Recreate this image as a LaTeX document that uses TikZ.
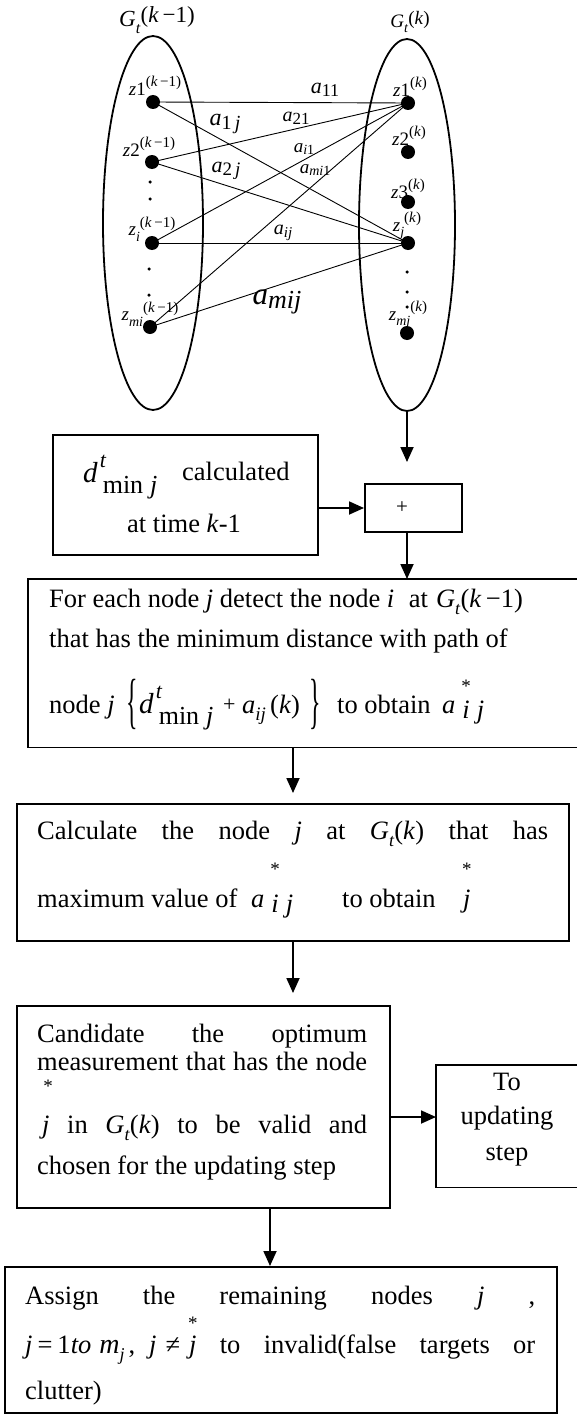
\documentclass[tikz,border=0pt]{standalone}
\usepackage{fontspec}
\setmainfont{Liberation Serif}
\usepackage{graphicx}
\usetikzlibrary{arrows.meta,shapes.geometric}
\newcommand{\fs}[1]{\fontsize{#1}{#1}\selectfont}
\newcommand{\Lsub}[2][15]{\raisebox{-0.3em}{\fs{#1}#2}}
\newsavebox{\stbox}
\newcommand{\starover}[2][1.0em]{\sbox{\stbox}{#2}\rlap{\hbox to\wd\stbox{\hss\raisebox{#1}{\fs{19}*}\hss}}\usebox{\stbox}}
\newcommand{\Gt}{\textit{G}\Lsub[18]{\textit{t}}}
\newcommand{\dmin}{{\fs{29}\textit{d}}\rlap{\raisebox{0.55em}{\fs{22}\hspace{2pt}\textit{t}}}\hspace{5pt}\raisebox{-0.45em}{\fs{26}min\hspace{7pt}\textit{j}}}
\newcommand{\brL}{\raisebox{-0.32em}{\scalebox{0.9}[2.3]{\{}}}
\newcommand{\brR}{\raisebox{-0.32em}{\scalebox{0.9}[2.3]{\}}}}
\newcommand{\aijs}[1]{\textit{a}\hspace{7pt}\starover[#1]{\raisebox{-0.2em}{\textit{i}}}\hspace{7pt}\raisebox{-0.2em}{\textit{j}}}
\newcommand{\zk}[2]{\textit{z}#1\raisebox{0.45em}{\fs{15}(#2)}}
\newcommand{\al}[2][13]{\textit{a}\raisebox{-0.15em}{\fs{#1}#2}}
\tikzset{
  txt/.style={inner sep=0pt, font=\fs{26.5}},
  lab/.style={inner sep=0pt, font=\fs{19}},
  flowbox/.style={draw, line width=1.8pt, inner sep=0pt, anchor=north west},
  openbox/.style={inner sep=0pt, anchor=north west},
  boxline/.style={line width=1.8pt},
  arr/.style={line width=1.8pt, -{Triangle[length=15pt,width=13pt]}},
  dot/.style={circle, fill, inner sep=0pt, minimum size=14pt},
  sdot/.style={circle, fill, inner sep=0pt, minimum size=3.5pt},
  conn/.style={line width=0.9pt},
  oval/.style={ellipse, draw, line width=1.8pt, inner sep=0pt},
}
\begin{document}
\begin{tikzpicture}[x=1pt,y=-1pt]
\useasboundingbox[fill=white] (0,0) rectangle (577,1418);
% ---------- graph ----------
\node[oval, minimum width=100pt, minimum height=374pt] (GL) at (153,223) {};
\node[oval, minimum width=96pt, minimum height=372pt] (GR) at (407,225) {};
\node[inner sep=0pt, font=\fs{23}] (tGL) at (157,20) {\textit{G}\Lsub[16]{\textit{t}}\raisebox{0.2em}{(\textit{k}\,−1)}};
\node[inner sep=0pt, font=\fs{19}] (tGR) at (410,22) {\textit{G}\Lsub[14]{\textit{t}}\raisebox{0.15em}{(\textit{k})}};
\coordinate (L1) at (153,102);
\coordinate (L2) at (152,162);
\coordinate (Li) at (152,243);
\coordinate (Lm) at (150,327);
\coordinate (R1) at (408,103);
\coordinate (R2) at (408,152);
\coordinate (R3) at (408,202);
\coordinate (Rj) at (408,243);
\coordinate (Rm) at (407,333);
\draw[conn] (L1) -- (R1);
\draw[conn] (L1) -- (Rj);
\draw[conn] (L2) -- (R1);
\draw[conn] (L2) -- (Rj);
\draw[conn] (Li) -- (R1);
\draw[conn] (Lm) -- (R1);
\draw[conn] (Li) -- (Rj);
\draw[conn] (Lm) -- (Rj);
\foreach \p/\n in {L1/dL1,L2/dL2,Li/dLi,Lm/dLm,R1/dR1,R2/dR2,R3/dR3,Rj/dRj,Rm/dRm}
  \node[dot] (\n) at (\p) {};
\node[sdot] (sl1) at (150,182) {};
\node[sdot] (sl2) at (150,199) {};
\node[sdot] (sl3) at (149,269) {};
\node[sdot] (sl4) at (149,295) {};
\node[sdot] (sr1) at (407,272) {};
\node[sdot] (sr2) at (407,292) {};
\node[sdot] (sr3) at (407,307) {};
% node labels
\node[lab] (zL1) at (155,86) {\zk{1}{\textit{k}\,−1}};
\node[lab] (zL2) at (149,147) {\zk{2}{\textit{k}\,−1}};
\node[lab] (zLi) at (152,229) {\zk{\Lsub[14]{\textit{i}}}{\textit{k}\,−1}};
\node[lab] (zLm) at (150,314) {\zk{\Lsub[14]{\textit{mi}}}{\textit{k}\,−1}};
\node[lab] (zR1) at (410,87) {\zk{1}{\textit{k}}};
\node[lab] (zR2) at (409,136) {\zk{2}{\textit{k}}};
\node[lab] (zR3) at (408,189) {\zk{3}{\textit{k}}};
\node[lab] (zRj) at (407,226) {\zk{\Lsub[14]{\textit{j}}}{\textit{k}}};
\node[lab] (zRm) at (408,315) {\zk{\Lsub[14]{\textit{mj}}}{\textit{k}}};
% edge labels
\node[lab, font=\fs{22}] (a11) at (325,90) {\al[18]{11}};
\node[lab, font=\fs{24}] (a1j) at (225,124) {\al[20]{1\,\textit{j}}};
\node[lab, font=\fs{20}] (a21) at (296,118) {\al[17]{21}};
\node[lab, font=\fs{19}] (ai1) at (304,149) {\al[14]{\textit{i}1}};
\node[lab, font=\fs{19}] (am1) at (315,170) {\al[14]{\textit{mi}1}};
\node[lab, font=\fs{22}] (a2j) at (226,171) {\al[19]{2\,\textit{j}}};
\node[lab, font=\fs{20}] (aij) at (283,233) {\al[15]{\textit{ij}}};
\node[lab, font=\fs{31}] (amj) at (277,302) {\al[26]{\textit{mij}}};
% ---------- flow boxes ----------
\node[flowbox, minimum width=265pt, minimum height=120pt] (b1) at (52,434) {};
\node[flowbox, minimum width=97pt, minimum height=48pt] (pl) at (364,483) {};
\node[openbox, minimum width=549pt, minimum height=168pt] (b3) at (28,579) {};
\draw[boxline] (b3.north east) -- (b3.north west) -- (b3.south west) -- (b3.south east);
\node[flowbox, minimum width=552pt, minimum height=137pt] (b4) at (16,803) {};
\node[flowbox, minimum width=373pt, minimum height=202pt] (b5) at (16,1005) {};
\node[openbox, minimum width=141pt, minimum height=122pt] (up) at (436,1065) {};
\draw[boxline] (up.north east) -- (up.north west) -- (up.south west) -- (up.south east);
\node[flowbox, minimum width=552pt, minimum height=146pt] (b6) at (4,1266) {};
% ---------- arrows ----------
\draw[arr, shorten >=21pt] (GR.south) -- (GR.south |- pl.north);
\coordinate (pa) at (364,508);
\draw[arr] (b1.east |- pa) -- (pa);
\coordinate (p3) at (407,579);
\draw[arr] (p3 |- pl.south) -- (p3);
\coordinate (a4) at (293,803);
\draw[arr, shorten >=10pt] (a4 |- b3.south) -- (a4);
\coordinate (a5) at (293,1005);
\draw[arr, shorten >=12pt] (a5 |- b4.south) -- (a5);
\coordinate (ua) at (436,1117);
\draw[arr] (b5.east |- ua) -- (ua);
\coordinate (a6) at (270,1266);
\draw[arr] (a6 |- b5.south) -- (a6);
% ---------- texts ----------
\node[txt, anchor=base west] (t1a) at (83,482) {\dmin};
\node[txt, anchor=base west] (t1c) at (182,480) {calculated};
\node[txt, anchor=base] (t1b) at (184,532) {at time \textit{k}-1};
\node[txt, font=\fs{21}] (tpl) at (402,508) {+};
\node[txt, anchor=base west] (t3a) at (49,607) {For each node \textit{j} detect the node \textit{i}\hspace{8pt} at\hspace{8pt}\Gt(\textit{k}\,−1)};
\node[txt, anchor=base west] (t3b) at (49,647) {that has the minimum distance with path of};
\node[txt, anchor=base west] (t3c1) at (49,713) {node \textit{j}};
\node[txt, anchor=base west] (t3c2) at (126,713) {\brL};
\node[txt, anchor=base west] (t3c3) at (139,713) {\dmin};
\node[txt, anchor=base west, font=\fs{22}] (t3c4) at (223,711) {+};
\node[txt, anchor=base west] (t3c5) at (242,713) {\textit{a}\Lsub[19]{\textit{ij}}};
\node[txt, anchor=base west] (t3c6) at (270,713) {(\textit{k})};
\node[txt, anchor=base west] (t3c7) at (309,713) {\brR};
\node[txt, anchor=base west] (t3c8) at (337,713) {to obtain};
\node[txt, anchor=base west] (t3c9) at (442,713) {\aijs{0.76em}};
\node[txt, anchor=base west] (t4a) at (37,839) {\makebox[511pt][s]{Calculate the node \textit{j} at \Gt(\textit{k}) that has}};
\node[txt, anchor=base west] (t4b) at (37,907) {maximum value of};
\node[txt, anchor=base west] (t4c) at (251,907) {\aijs{1.2em}};
\node[txt, anchor=base west] (t4d) at (342,907) {to obtain};
\node[txt, anchor=base west] (t4e) at (463,907) {\starover[1.2em]{\textit{j}}};
\node[txt, anchor=base west] (t5a) at (37,1042) {\makebox[330pt][s]{Candidate the optimum}};
\node[txt, anchor=base west] (t5b) at (37,1070) {\makebox[330pt][s]{measurement that has the node}};
\node[txt, font=\fs{19}] (t5s) at (48,1086) {*};
\node[txt, anchor=base west] (t5c) at (42,1133) {\makebox[325pt][s]{\textit{j} in \Gt(\textit{k}) to be valid and}};
\node[txt, anchor=base west] (t5d) at (37,1174) {chosen for the updating step};
\node[txt, anchor=base] (tu1) at (507,1090) {To};
\node[txt, anchor=base] (tu2) at (507,1124) {updating};
\node[txt, anchor=base] (tu3) at (507,1160) {step};
\node[txt, anchor=base west] (t6a) at (25,1304) {\makebox[510pt][s]{Assign the remaining nodes \textit{j} ,}};
\node[txt, anchor=base west] (t6b) at (25,1353) {\makebox[510pt][s]{\mbox{\textit{j}\hspace{5pt}=\hspace{5pt}1\textit{to}\hspace{8pt}{\fs{28}\textit{m}}\Lsub[18]{\textit{j}}\hspace{4pt},\hspace{14pt}\textit{j}\hspace{9pt}≠\hspace{9pt}\starover[0.88em]{\textit{j}}} to invalid(false targets or}};
\node[txt, anchor=base west] (t6c) at (25,1399) {clutter)};
\end{tikzpicture}
\end{document}
